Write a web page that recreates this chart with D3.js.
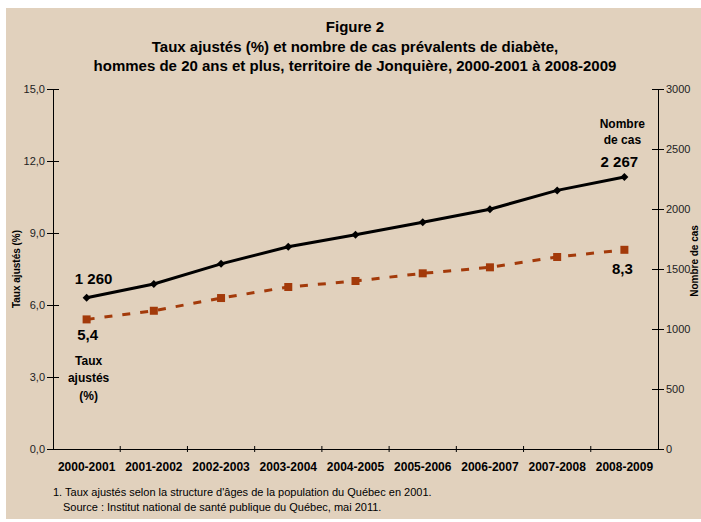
<!DOCTYPE html>
<html>
<head>
<meta charset="utf-8">
<script src="https://cdn.jsdelivr.net/npm/d3@7"></script>
<style>
  body { margin: 0; background: #fff; }
  svg { display: block; font-family: "Liberation Sans", Arial, sans-serif; }
</style>
</head>
<body>
<div id="chart-area"></div>
<script>
// data
var periods = ["2000-2001", "2001-2002", "2002-2003", "2003-2004", "2004-2005",
  "2005-2006", "2006-2007", "2007-2008", "2008-2009"];
var nombreCas = [1260, 1375, 1543, 1685, 1785, 1890, 1998, 2155, 2267];
var tauxAjustes = [5.4, 5.76, 6.29, 6.75, 7.0, 7.32, 7.57, 8.0, 8.3];
var leftTicks = [0, 3, 6, 9, 12, 15];
var rightTicks = [0, 500, 1000, 1500, 2000, 2500, 3000];
var titleLines = ["Figure 2",
  "Taux ajustés (%) et nombre de cas prévalents de diabète,",
  "hommes de 20 ans et plus, territoire de Jonquière, 2000-2001 à 2008-2009"];

var width = 701, height = 522;
var margin = {top: 89, right: 43, bottom: 73, left: 53};
var w = width - margin.left - margin.right;
var h = height - margin.top - margin.bottom;

var svg = d3.select("#chart-area").append("svg")
  .attr("width", width)
  .attr("height", height);

svg.append("rect")
  .attr("x", 6).attr("y", 8)
  .attr("width", width - 6).attr("height", 511)
  .attr("fill", "#e1d1bd");

titleLines.forEach(function(t, i) {
  svg.append("text")
    .attr("x", 355)
    .attr("y", 32 + i * 19.5)
    .attr("text-anchor", "middle")
    .attr("font-size", "15px")
    .attr("font-weight", "bold")
    .text(t);
});

var g = svg.append("g")
  .attr("transform", "translate(" + margin.left + "," + margin.top + ")");

var x = d3.scaleBand().domain(periods).range([0, w]);
var yL = d3.scaleLinear().domain([0, 15]).range([h, 0]);
var yR = d3.scaleLinear().domain([0, 3000]).range([h, 0]);

// axes
var bottomAxis = d3.axisBottom(x).tickSize(0).tickFormat(function(d) { return d; });
var xg = g.append("g")
  .attr("transform", "translate(0," + h + ")")
  .call(bottomAxis);
xg.selectAll("text")
  .attr("dy", "1.55em")
  .attr("font-size", "12px")
  .attr("font-weight", "bold")
  .attr("font-family", "Liberation Sans, Arial, sans-serif")
  .attr("fill", "#000");
xg.select(".domain").attr("stroke", "#000");
// tick marks at category boundaries
g.selectAll(".xtick")
  .data(periods.slice(1))
  .enter().append("line")
  .attr("x1", function(d) { return x(d); })
  .attr("x2", function(d) { return x(d); })
  .attr("y1", h - 3).attr("y2", h + 3)
  .attr("stroke", "#000");

var leftAxis = d3.axisLeft(yL)
  .tickValues(leftTicks)
  .tickSizeInner(6).tickSizeOuter(0)
  .tickFormat(function(d) { return d3.format(".1f")(d).replace(".", ","); });
var lg = g.append("g").call(leftAxis);
lg.selectAll(".tick line").attr("x2", 6).attr("x1", -6).attr("stroke", "#000");
lg.selectAll("text").attr("x", -8).attr("font-size", "11px")
  .attr("font-family", "Liberation Sans, Arial, sans-serif").attr("fill", "#222");
lg.select(".domain").attr("stroke", "#000");

var rightAxis = d3.axisRight(yR)
  .tickValues(rightTicks)
  .tickSizeInner(6).tickSizeOuter(0)
  .tickFormat(d3.format("d"));
var rg = g.append("g").attr("transform", "translate(" + w + ",0)").call(rightAxis);
rg.selectAll(".tick line").attr("x1", -6).attr("x2", 6).attr("stroke", "#000");
rg.selectAll("text").attr("x", 8).attr("font-size", "11px")
  .attr("font-family", "Liberation Sans, Arial, sans-serif").attr("fill", "#222");
rg.select(".domain").attr("stroke", "#000");

// axis titles
svg.append("text")
  .attr("transform", "translate(20," + (margin.top + h / 2) + ") rotate(-90)")
  .attr("text-anchor", "middle")
  .attr("font-size", "10px")
  .attr("font-weight", "bold")
  .text("Taux ajustés (%)");
svg.append("text")
  .attr("transform", "translate(698," + (margin.top + h / 2 - 8) + ") rotate(-90)")
  .attr("text-anchor", "middle")
  .attr("font-size", "10px")
  .attr("font-weight", "bold")
  .text("Nombre de cas");

var cx = function(d, i) { return x(periods[i]) + x.bandwidth() / 2; };

// rate series (dashed, squares)
var lineL = d3.line()
  .x(function(d, i) { return cx(d, i); })
  .y(function(d) { return yL(d); });
g.append("path")
  .datum(tauxAjustes)
  .attr("d", lineL)
  .attr("fill", "none")
  .attr("stroke", "#a33a0a")
  .attr("stroke-width", 3)
  .attr("stroke-dasharray", "8,10");
g.selectAll(".sq")
  .data(tauxAjustes)
  .enter().append("rect")
  .attr("x", function(d, i) { return cx(d, i) - 4; })
  .attr("y", function(d) { return yL(d) - 4; })
  .attr("width", 8).attr("height", 8)
  .attr("fill", "#a33a0a");

// count series (solid, diamonds)
var lineR = d3.line()
  .x(function(d, i) { return cx(d, i); })
  .y(function(d) { return yR(d); });
g.append("path")
  .datum(nombreCas)
  .attr("d", lineR)
  .attr("fill", "none")
  .attr("stroke", "#000")
  .attr("stroke-width", 3);
g.selectAll(".dm")
  .data(nombreCas)
  .enter().append("path")
  .attr("transform", function(d, i) { return "translate(" + cx(d, i) + "," + yR(d) + ")"; })
  .attr("d", "M0,-4L4,0L0,4L-4,0Z")
  .attr("fill", "#000");

// annotations
var last = periods.length - 1;
function note(t, px, py, size) {
  g.append("text")
    .attr("x", px).attr("y", py)
    .attr("text-anchor", "middle")
    .attr("font-size", size)
    .attr("font-weight", "bold")
    .text(t);
}
note("1 260", cx(null, 0) + 7, yR(nombreCas[0]) - 14, "15px");
note("2 267", cx(null, last) - 5, yR(nombreCas[last]) - 10, "15px");
note("Nombre", cx(null, last) - 2, 39, "12px");
note("de cas", cx(null, last) - 2, 55, "12px");
note("5,4", cx(null, 0) + 1, yL(tauxAjustes[0]) + 21, "15px");
note("8,3", cx(null, last) - 2, yL(tauxAjustes[last]) + 24, "15px");
note("Taux", cx(null, 0) + 2, 276, "12px");
note("ajustés", cx(null, 0) + 2, 293, "12px");
note("(%)", cx(null, 0) + 2, 311, "12px");

// footnotes
svg.append("text").attr("x", 53).attr("y", 496).attr("font-size", "11px")
  .text("1. Taux ajustés selon la structure d'âges de la population du Québec en 2001.");
svg.append("text").attr("x", 63).attr("y", 511).attr("font-size", "11px")
  .text("Source : Institut national de santé publique du Québec, mai 2011.");
</script>
</body>
</html>
